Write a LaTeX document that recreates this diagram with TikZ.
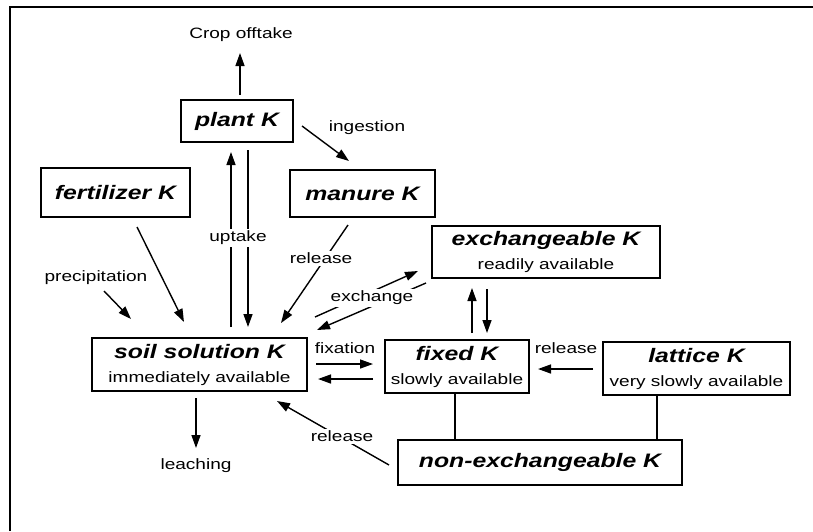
\documentclass[tikz,border=0pt]{standalone}
\usepackage{fontspec}
\setmainfont{Liberation Sans}
\usetikzlibrary{arrows.meta}
\newfontfamily\stretchfont[FakeStretch=1.27]{Liberation Sans}
\newcommand{\bxtitle}{\stretchfont\fontsize{19.5}{24}\selectfont\bfseries\itshape}
\newcommand{\bxsub}{\stretchfont\fontsize{15}{24}\selectfont\mdseries\upshape}
\newcommand{\lblfont}{\stretchfont\fontsize{15}{17}\selectfont}
\begin{document}
\begin{tikzpicture}[x=1pt,y=-1pt,
  kbox/.style={draw, line width=1.7pt, inner sep=0pt, align=center, font=\fontsize{15}{24}\selectfont},
  lbl/.style={font=\lblfont, inner sep=1pt},
  gaplbl/.style={font=\lblfont, inner sep=2pt, fill=white},
  arr/.style={-{Triangle[length=13pt,width=9pt]}, line width=1.4pt},
  conn/.style={line width=1.4pt}]
\useasboundingbox (0,0) rectangle (813,531);
% frame
\draw[line width=2.2pt] (10,531) -- (10,7) -- (813,7);

% boxes
\node[kbox, minimum width=112pt, minimum height=42pt] (plant) at (237,121) {\bxtitle plant K};
\node[kbox, minimum width=149pt, minimum height=49pt] (fert) at (115.5,192.5) {\bxtitle fertilizer K};
\node[kbox, minimum width=145pt, minimum height=47pt] (manure) at (362.5,193.5) {\bxtitle manure K};
\node[kbox, minimum width=228pt, minimum height=52pt] (exch) at (546,252) {\bxtitle exchangeable K\\\bxsub readily available};
\node[kbox, minimum width=215pt, minimum height=53pt] (soil) at (199.5,364.5) {\bxtitle soil solution K\\\bxsub immediately available};
\node[kbox, minimum width=144pt, minimum height=53pt] (fixed) at (457,366.5) {\bxtitle fixed K\\\bxsub slowly available};
\node[kbox, minimum width=187pt, minimum height=53pt] (lattice) at (696.5,368.5) {\bxtitle lattice K\\\bxsub very slowly available};
\node[kbox, minimum width=284pt, minimum height=45pt] (nonexch) at (540,462.5) {\bxtitle non-exchangeable K};

% free labels
\node[lbl] (crop) at (241,35) {Crop offtake};
\node[lbl] (ingest) at (367,128) {ingestion};
\node[lbl] (precip) at (96,278) {precipitation};
\node[lbl] (fixlbl) at (345,348) {fixation};
\node[lbl] (latrel) at (566,348) {release};
\node[lbl] (leach) at (196,466) {leaching};

% coordinates
\coordinate (cropA) at (240,95);   \coordinate (cropB) at (240,53);
\coordinate (ingA) at (302,126);   \coordinate (ingB) at (349,161);
\coordinate (upA) at (231,327);    \coordinate (upB) at (231,152);
\coordinate (dnA) at (248,150);    \coordinate (dnB) at (248,327);
\coordinate (ferA) at (137,227);   \coordinate (ferB) at (184,322);
\coordinate (preA) at (104,291);   \coordinate (preB) at (131,319);
\coordinate (manA) at (348,225);   \coordinate (manB) at (281,323);
\coordinate (exA) at (315,317);    \coordinate (exB) at (418,271);
\coordinate (exC) at (426,283);    \coordinate (exD) at (317,330);
\coordinate (efA) at (472,333);    \coordinate (efB) at (472,288);
\coordinate (efC) at (487,289);    \coordinate (efD) at (487,333);
\coordinate (fxA) at (316,364);    \coordinate (fxB) at (373,364);
\coordinate (fxC) at (373,379);    \coordinate (fxD) at (318,379);
\coordinate (ltA) at (593,369);    \coordinate (ltB) at (538,369);
\coordinate (neA) at (389,465);    \coordinate (neB) at (277,401);
\coordinate (lcA) at (196,398);    \coordinate (lcB) at (196,448);
\coordinate (fxl) at (455,0);      \coordinate (ltl) at (657,0);

% connectors
\draw[arr] (cropA) -- (cropB);
\draw[arr] (ingA) -- (ingB);
\draw[arr] (upA) -- (upB);
\draw[arr] (dnA) -- (dnB);
\draw[arr] (ferA) -- (ferB);
\draw[arr] (preA) -- (preB);
\draw[arr] (manA) -- (manB);
\draw[arr] (exA) -- (exB);
\draw[arr] (exC) -- (exD);
\draw[arr] (efA) -- (efB);
\draw[arr] (efC) -- (efD);
\draw[arr] (fxA) -- (fxB);
\draw[arr] (fxC) -- (fxD);
\draw[arr] (ltA) -- (ltB);
\draw[arr] (neA) -- (neB);
\draw[arr] (lcA) -- (lcB);
\draw[conn] (fixed.south -| fxl) -- (nonexch.north -| fxl);
\draw[conn] (lattice.south -| ltl) -- (nonexch.north -| ltl);

% labels that interrupt lines
\node[gaplbl] (uptake) at (238,238) {uptake};
\node[gaplbl] (manrel) at (321,258) {release};
\node[gaplbl] (exlbl) at (372,298) {exchange};
\node[gaplbl] (nerel) at (342,436) {release};
\end{tikzpicture}
\end{document}
